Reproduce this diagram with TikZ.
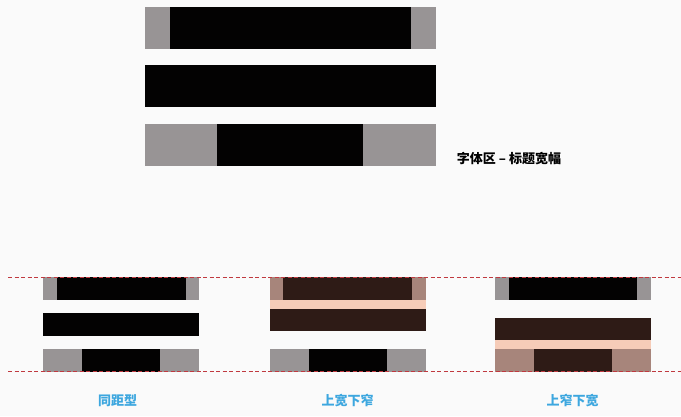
\documentclass[tikz,border=0pt]{standalone}
\usepackage{fontspec}
\newfontfamily\cjk{Noto Sans CJK SC}

\definecolor{pad}{HTML}{989495}
\definecolor{ink}{HTML}{030202}
\definecolor{darkbrown}{HTML}{2E1B16}
\definecolor{rosy}{HTML}{A7857B}
\definecolor{peach}{HTML}{F6CCB8}
\definecolor{guide}{HTML}{C0393F}
\definecolor{capblue}{HTML}{3DA7DF}
\definecolor{paper}{HTML}{FAFAFA}

\begin{document}
\begin{tikzpicture}[x=1pt, y=-1pt,
    padbox/.style = {fill=pad},
    inkbox/.style = {fill=ink},
    brownbox/.style = {fill=darkbrown},
    rosybox/.style = {fill=rosy},
    peachbox/.style = {fill=peach},
    guideline/.style = {draw=guide, line width=1.1pt, dash pattern=on 4pt off 2.5pt},
    caption/.style = {text=capblue, font=\cjk\bfseries\fontsize{13}{13}\selectfont}]
    \fill[paper] (0,0) rectangle (681,416);
    \useasboundingbox (0,0) rectangle (681,416);

    % top: title width
    \fill[padbox] (145,7) rectangle (436,49);
    \fill[inkbox] (170,7) rectangle (411,49);
    \fill[inkbox] (145,65) rectangle (436,107);
    \fill[padbox] (145,124) rectangle (436,166);
    \fill[inkbox] (217,124) rectangle (363,166);
    \node[font=\cjk\bfseries\fontsize{13}{13}\selectfont] (title) at (509,159) {字体区 – 标题宽幅};

    % same spacing
    \fill[padbox] (43,277) rectangle (199,300);
    \fill[inkbox] (56.5,277) rectangle (185.5,300);
    \fill[inkbox] (43,313) rectangle (199,336);
    \fill[padbox] (43,349) rectangle (199,372);
    \fill[inkbox] (82,349) rectangle (160,372);

    % wide top, narrow bottom
    \fill[rosybox] (270,277) rectangle (426,300);
    \fill[brownbox] (283,277) rectangle (412,300);
    \fill[peachbox] (270,300) rectangle (426,309);
    \fill[brownbox] (270,309) rectangle (426,331);
    \fill[padbox] (270,349) rectangle (426,372);
    \fill[inkbox] (309,349) rectangle (387,372);

    % narrow top, wide bottom
    \fill[padbox] (495,277) rectangle (651,300);
    \fill[inkbox] (509,277) rectangle (637,300);
    \fill[brownbox] (495,318) rectangle (651,340);
    \fill[peachbox] (495,340) rectangle (651,349);
    \fill[rosybox] (495,349) rectangle (651,372);
    \fill[brownbox] (534,349) rectangle (612,372);

    % guide lines
    \coordinate (topL) at (8,277.5);
    \coordinate (topR) at (681,277.5);
    \coordinate (botL) at (8,371.5);
    \coordinate (botR) at (681,371.5);
    \draw[guideline] (topL) -- (topR);
    \draw[guideline] (botL) -- (botR);

    \node[caption] (same) at (117.5,401) {同距型};
    \node[caption] (widetop) at (347.5,401) {上宽下窄};
    \node[caption] (narrowtop) at (572.5,401) {上窄下宽};
\end{tikzpicture}
\end{document}
